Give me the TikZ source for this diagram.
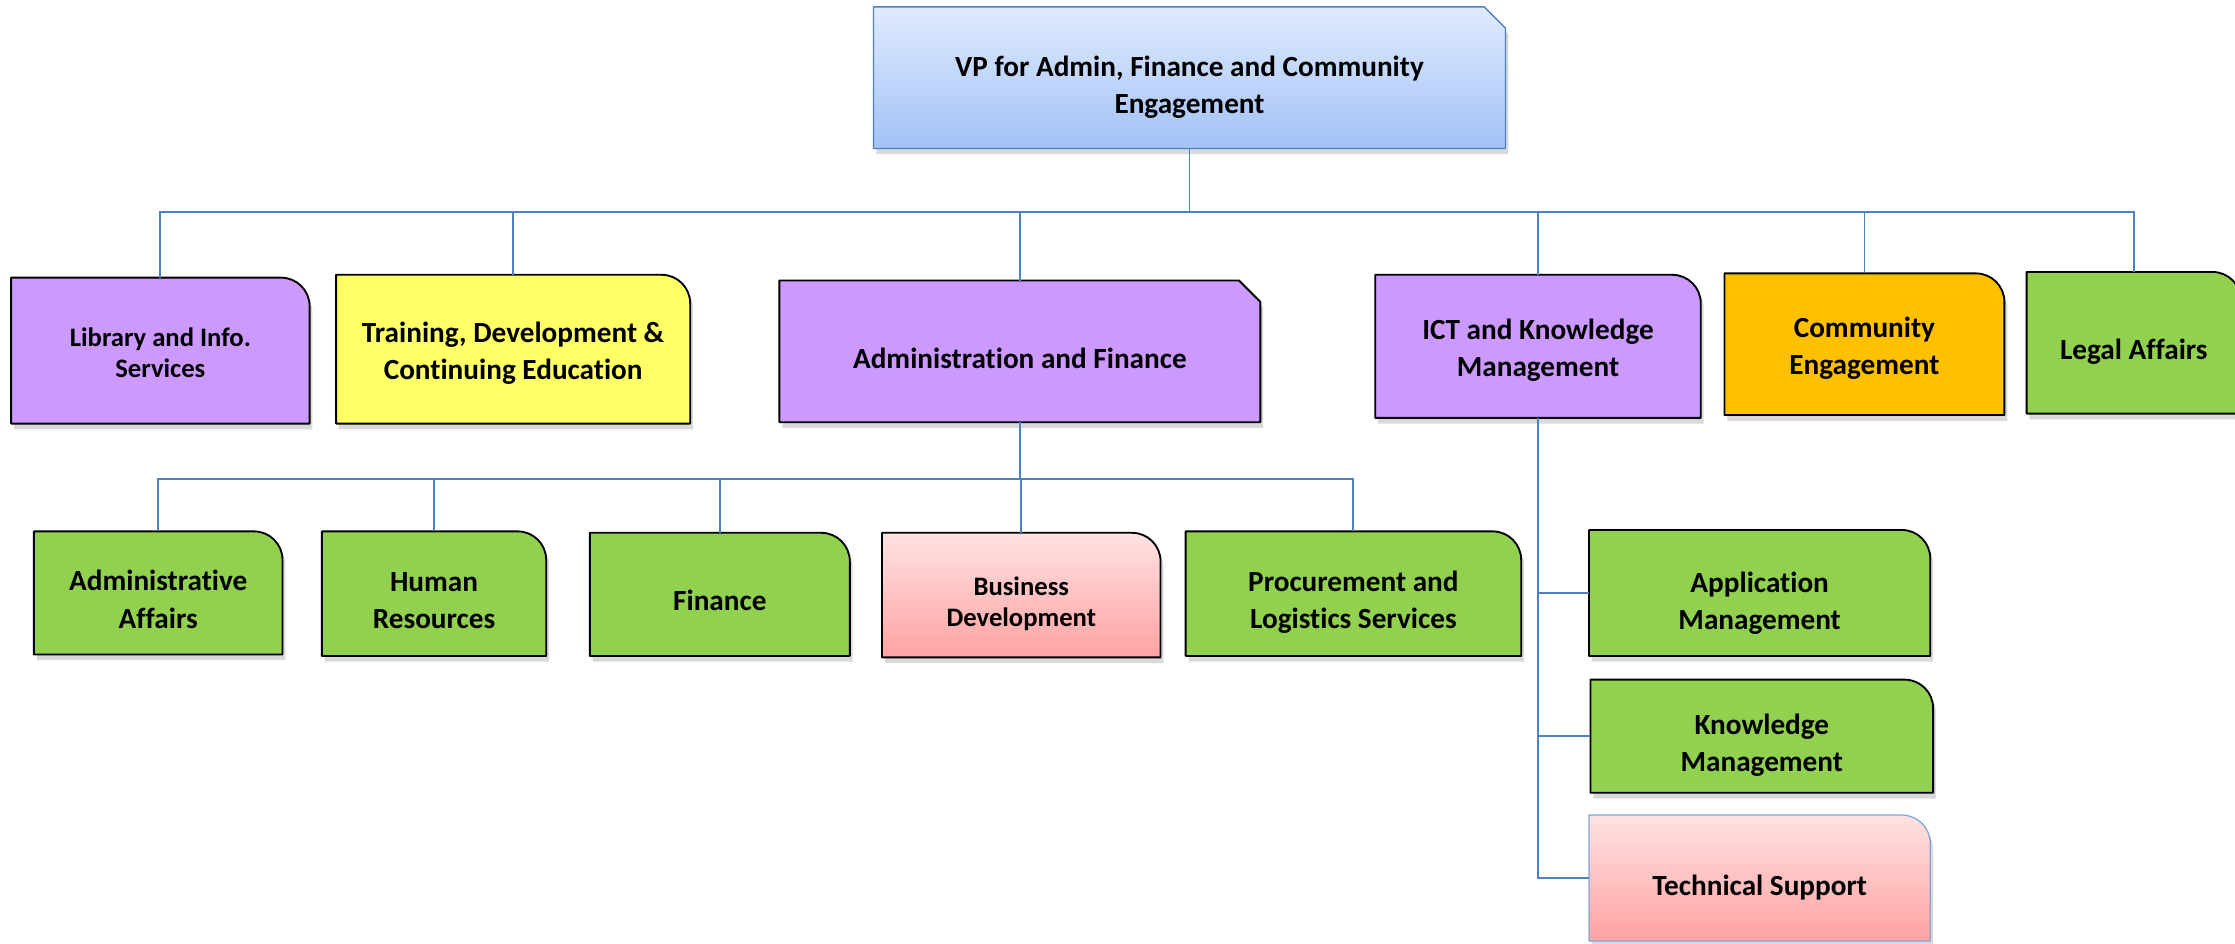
\documentclass[tikz,border=0pt]{standalone}
\usepackage{fontspec}
\setmainfont{Carlito}[Ligatures={NoCommon}]
\usetikzlibrary{backgrounds,shadows}
\definecolor{purp}{HTML}{CC99FF}
\definecolor{yel}{HTML}{FFFF66}
\definecolor{orng}{HTML}{FFC000}
\definecolor{grn}{HTML}{92D050}
\definecolor{pinktop}{HTML}{FFE2E2}
\definecolor{pinkbot}{HTML}{FFA2A2}
\definecolor{bluetop}{HTML}{DFEAFD}
\definecolor{bluebot}{HTML}{A3C2F7}
\definecolor{conncol}{HTML}{4F81BD}
\definecolor{tsborder}{HTML}{7EA6D6}
\newcommand\rtrshape[2]{%
  \draw[#2] (#1.south west) -- (#1.north west) -- ([xshift=-20pt]#1.north east)
    arc[start angle=90,end angle=0,radius=20pt] -- (#1.south east) -- cycle;}
\newcommand\chamshape[2]{%
  \draw[#2] (#1.south west) -- (#1.north west) -- ([xshift=-15pt]#1.north east)
    -- ([yshift=-15pt]#1.north east) -- (#1.south east) -- cycle;}
\tikzset{
  frame/.style={inner sep=0pt},
  lbl/.style={align=center, inner sep=0pt, font=\fontsize{20.5}{26}\selectfont\bfseries},
  lblsmall/.style={align=center, inner sep=0pt, font=\fontsize{18.7}{22}\selectfont\bfseries},
  boxline/.style={draw=black, line width=1.3pt, line join=round,
    drop shadow={shadow xshift=2pt, shadow yshift=-4pt, opacity=0.25, fill=black!60}},
  purpbox/.style={boxline, fill=purp},
  yelbox/.style={boxline, fill=yel},
  orngbox/.style={boxline, fill=orng},
  grnbox/.style={boxline, fill=grn},
  pinkbox/.style={boxline, top color=pinktop, bottom color=pinkbot},
  pinkboxb/.style={pinkbox, draw=tsborder, line width=0.9pt},
  vpbox/.style={boxline, draw=conncol, line width=1pt, top color=bluetop, bottom color=bluebot},
  conn/.style={draw=conncol, line width=1.3pt}
}
\begin{document}
\begin{tikzpicture}[x=1pt,y=1pt]
\useasboundingbox (0,0) rectangle (1568,662);
% box frames
\node[frame, minimum width=443pt, minimum height=99pt] (vp) at (834.5,607.5) {};
\node[frame, minimum width=209pt, minimum height=102pt] (lib) at (112.5,416) {};
\node[frame, minimum width=248pt, minimum height=104pt] (trn) at (360,417) {};
\node[frame, minimum width=337pt, minimum height=99pt] (adm) at (715.5,415.5) {};
\node[frame, minimum width=228pt, minimum height=100pt] (ict) at (1079,419) {};
\node[frame, minimum width=196pt, minimum height=99pt] (com) at (1308,420.5) {};
\node[frame, minimum width=150pt, minimum height=99pt] (leg) at (1497,421.5) {};
\node[frame, minimum width=174pt, minimum height=86pt] (aa) at (111,246) {};
\node[frame, minimum width=157pt, minimum height=87pt] (hr) at (304.5,245.5) {};
\node[frame, minimum width=182pt, minimum height=86pt] (fin) at (505,245) {};
\node[frame, minimum width=195pt, minimum height=87pt] (bd) at (716.5,244.5) {};
\node[frame, minimum width=235pt, minimum height=87pt] (pls) at (949.5,245.5) {};
\node[frame, minimum width=239pt, minimum height=88pt] (am) at (1234.5,246) {};
\node[frame, minimum width=240pt, minimum height=79pt] (km) at (1236,145.5) {};
\node[frame, minimum width=239pt, minimum height=88pt] (ts) at (1234.5,46) {};
\begin{scope}[on background layer]
  \chamshape{vp}{vpbox}
  \rtrshape{lib}{purpbox}
  \rtrshape{trn}{yelbox}
  \chamshape{adm}{purpbox}
  \rtrshape{ict}{purpbox}
  \rtrshape{com}{orngbox}
  \rtrshape{leg}{grnbox}
  \rtrshape{aa}{grnbox}
  \rtrshape{hr}{grnbox}
  \rtrshape{fin}{grnbox}
  \rtrshape{bd}{pinkbox}
  \rtrshape{pls}{grnbox}
  \rtrshape{am}{grnbox}
  \rtrshape{km}{grnbox}
  \rtrshape{ts}{pinkboxb}
\end{scope}
% texts
\node[lbl] (vp-t) at ([yshift=-6.5pt]vp.center) {VP for Admin, Finance and Community\\Engagement};
\node[lblsmall] (lib-t) at ([yshift=-1.5pt]lib.center) {Library and Info.\\Services};
\node[lbl] (trn-t) at ([yshift=-2.5pt]trn.center) {Training, Development \&\\Continuing Education};
\node[lbl] (adm-t) at ([yshift=-5pt]adm.center) {Administration and Finance};
\node[lbl] (ict-t) at ([yshift=-3pt]ict.center) {ICT and Knowledge\\Management};
\node[lbl] (com-t) at ([yshift=-3pt]com.center) {Community\\Engagement};
\node[lbl] (leg-t) at ([yshift=-6pt]leg.center) {Legal Affairs};
\node[lbl] (aa-t) at ([yshift=-4.5pt]aa.center) {Administrative\\Affairs};
\node[lbl] (hr-t) at ([yshift=-5pt]hr.center) {Human\\Resources};
\node[lbl] (fin-t) at ([yshift=-4pt]fin.center) {Finance};
\node[lblsmall] (bd-t) at ([yshift=-6pt]bd.center) {Business\\Development};
\node[lbl] (pls-t) at ([yshift=-6pt]pls.center) {Procurement and\\Logistics Services};
\node[lbl] (am-t) at ([yshift=-7pt]am.center) {Application\\Management};
\node[lbl] (km-t) at ([yshift=-6pt]km.center) {Knowledge\\Management};
\node[lbl] (ts-t) at ([yshift=-7pt]ts.center) {Technical Support};
% connectors
\coordinate (bus) at (834.5,513);
\draw[conn] (vp.south) -- (bus);
\foreach \n in {lib,trn,adm,ict,com,leg} \draw[conn] (bus) -| (\n.north);
\coordinate (bus2) at (715.5,326);
\draw[conn] (adm.south) -- (bus2);
\foreach \n in {aa,hr,fin,bd,pls} \draw[conn] (bus2) -| (\n.north);
\foreach \n in {am,km,ts} \draw[conn] (ict.south) |- (\n.west);
\end{tikzpicture}
\end{document}
